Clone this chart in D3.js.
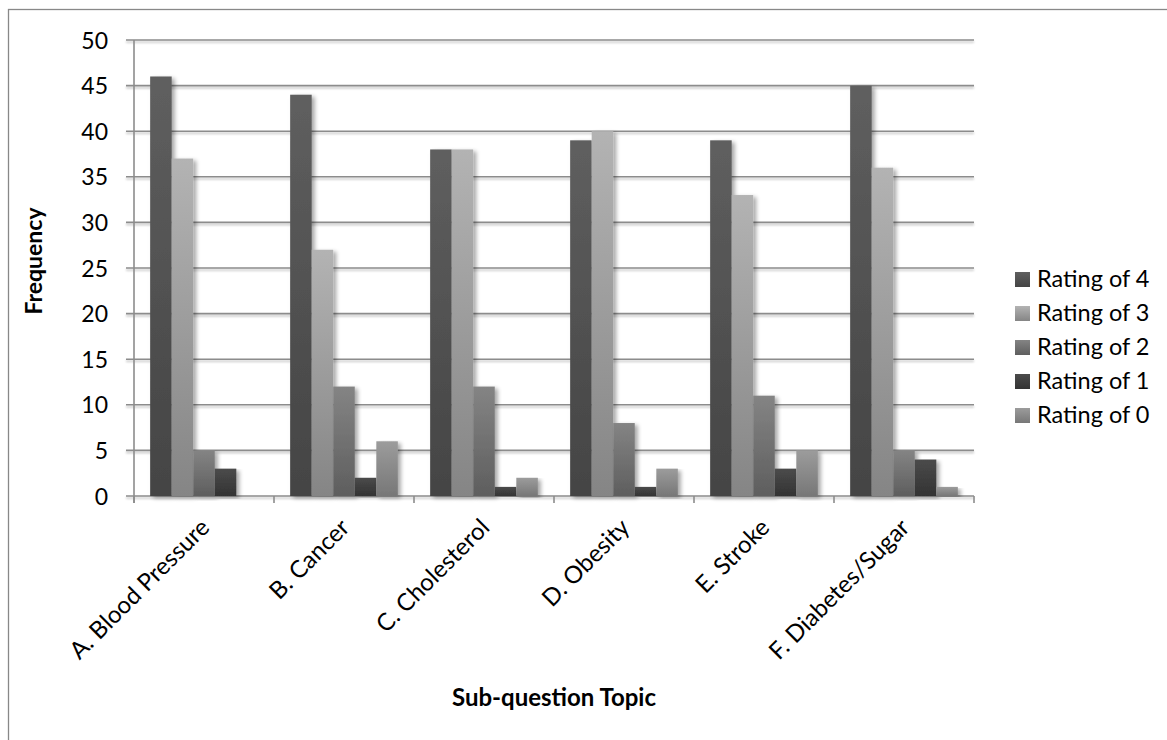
<!DOCTYPE html>
<html>
<head>
<meta charset="utf-8">
<script src="https://cdn.jsdelivr.net/npm/d3@7"></script>
<style>
  html, body { margin: 0; padding: 0; background: #fff; }
  svg { display: block; font-family: Lato, "Open Sans", sans-serif; }
</style>
</head>
<body>
<svg id="chart" width="1167" height="740"></svg>
<script>
// Survey topics and rating frequencies
const topics = ["A. Blood Pressure", "B. Cancer", "C. Cholesterol", "D. Obesity", "E. Stroke", "F. Diabetes/Sugar"];
const ratings = ["Rating of 4", "Rating of 3", "Rating of 2", "Rating of 1", "Rating of 0"];
const rating4 = [46, 44, 38, 39, 39, 45];
const rating3 = [37, 27, 38, 40, 33, 36];
const rating2 = [5, 12, 12, 8, 11, 5];
const rating1 = [3, 2, 1, 1, 3, 4];
const rating0 = [0, 6, 2, 3, 5, 1];
const yTicks = [0, 5, 10, 15, 20, 25, 30, 35, 40, 45, 50];

const seriesValues = [rating4, rating3, rating2, rating1, rating0];
// top / bottom shades of each series gradient
const shades = [
  ["#5f5f5f", "#444444"],
  ["#b3b3b3", "#858585"],
  ["#848484", "#5e5e5e"],
  ["#4b4b4b", "#333333"],
  ["#9c9c9c", "#777777"]
];

const svg = d3.select("#chart");
const defs = svg.append("defs");

shades.forEach((s, i) => {
  const g = defs.append("linearGradient")
    .attr("id", "grad" + i)
    .attr("x1", 0).attr("y1", 0).attr("x2", 0).attr("y2", 1);
  g.append("stop").attr("offset", "0%").attr("stop-color", s[0]);
  g.append("stop").attr("offset", "100%").attr("stop-color", s[1]);
});

// soft drop shadow for bars
const shadow = defs.append("filter").attr("id", "shadow")
  .attr("x", "-20%").attr("y", "-5%").attr("width", "160%").attr("height", "115%");
shadow.append("feGaussianBlur").attr("in", "SourceAlpha").attr("stdDeviation", 2.2).attr("result", "b");
shadow.append("feOffset").attr("in", "b").attr("dx", 2.5).attr("dy", 2).attr("result", "o");
shadow.append("feComponentTransfer").attr("in", "o").attr("result", "t")
  .append("feFuncA").attr("type", "linear").attr("slope", 0.35);
const merge = shadow.append("feMerge");
merge.append("feMergeNode").attr("in", "t");
merge.append("feMergeNode").attr("in", "SourceGraphic");

// faint shadow under gridlines (user space, since lines have no height)
const lineShadow = defs.append("filter").attr("id", "lineShadow")
  .attr("filterUnits", "userSpaceOnUse")
  .attr("x", 0).attr("y", 0).attr("width", 1167).attr("height", 740);
lineShadow.append("feGaussianBlur").attr("in", "SourceAlpha").attr("stdDeviation", 0.8).attr("result", "b");
lineShadow.append("feOffset").attr("in", "b").attr("dx", 0).attr("dy", 1.5).attr("result", "o");
lineShadow.append("feComponentTransfer").attr("in", "o").attr("result", "t")
  .append("feFuncA").attr("type", "linear").attr("slope", 0.25);
const m2 = lineShadow.append("feMerge");
m2.append("feMergeNode").attr("in", "t");
m2.append("feMergeNode").attr("in", "SourceGraphic");

// outer chart frame
svg.append("rect")
  .attr("x", 8.5).attr("y", 9.5).attr("width", 1170).attr("height", 760)
  .attr("fill", "#fff").attr("stroke", "#888").attr("stroke-width", 1.3);

const plot = { left: 134, right: 974, top: 40, bottom: 496 };

const x = d3.scaleBand().domain(topics).range([plot.left, plot.right]).paddingInner(0).paddingOuter(0);
const gapRatio = 1.5; // gap between clusters relative to one bar
const barW = x.bandwidth() / (ratings.length + gapRatio);
const xs = d3.scaleBand().domain(ratings)
  .range([barW * gapRatio / 2, x.bandwidth() - barW * gapRatio / 2]);
const y = d3.scaleLinear().domain([0, 50]).range([plot.bottom, plot.top]);

// horizontal gridlines
svg.append("g").attr("filter", "url(#lineShadow)")
  .selectAll("line").data(yTicks).join("line")
  .attr("x1", plot.left - 8).attr("x2", plot.right)
  .attr("y1", d => y(d)).attr("y2", d => y(d))
  .attr("stroke", "#8c8c8c").attr("stroke-width", 1.6);

// y axis line
svg.append("line")
  .attr("x1", plot.left).attr("x2", plot.left)
  .attr("y1", plot.top).attr("y2", plot.bottom + 7)
  .attr("stroke", "#8c8c8c").attr("stroke-width", 1.6);

// category tick marks
svg.append("g").selectAll("line").data(d3.range(topics.length + 1)).join("line")
  .attr("x1", i => plot.left + i * x.step()).attr("x2", i => plot.left + i * x.step())
  .attr("y1", plot.bottom).attr("y2", plot.bottom + 7)
  .attr("stroke", "#8c8c8c").attr("stroke-width", 1.6);

// y tick labels
const yAxis = d3.axisLeft(y).tickValues(yTicks).tickSize(0).tickPadding(0);
const yg = svg.append("g").attr("transform", `translate(${plot.left - 26},0)`).call(yAxis);
yg.select(".domain").remove();
yg.selectAll("text")
  .attr("font-family", "Lato, 'Open Sans', sans-serif")
  .attr("font-size", 23).attr("fill", "#000").attr("dy", "0.35em");

// bars
const groups = svg.append("g").selectAll("g").data(topics).join("g")
  .attr("transform", d => `translate(${x(d)},0)`);
groups.selectAll("rect")
  .data((t, ti) => ratings.map((r, ri) => ({ r, ri, v: seriesValues[ri][ti] })))
  .join("rect")
  .filter(d => d.v > 0)
  .attr("x", d => xs(d.r))
  .attr("width", xs.bandwidth())
  .attr("y", d => y(d.v))
  .attr("height", d => y(0) - y(d.v))
  .attr("fill", d => `url(#grad${d.ri})`)
  .attr("filter", "url(#shadow)");

// category labels, rotated
svg.append("g").selectAll("text").data(topics).join("text")
  .attr("transform", d => `translate(${x(d) + x.bandwidth() / 2 + 7},${plot.bottom + 33}) rotate(-45)`)
  .attr("text-anchor", "end")
  .attr("font-size", 24).attr("fill", "#000")
  .text(d => d);

// axis titles
svg.append("text")
  .attr("transform", `translate(42,261) rotate(-90)`)
  .attr("text-anchor", "middle")
  .attr("font-size", 23).attr("font-weight", "bold").attr("fill", "#000")
  .text("Frequency");

svg.append("text")
  .attr("x", (plot.left + plot.right) / 2).attr("y", 706)
  .attr("text-anchor", "middle")
  .attr("font-size", 24).attr("font-weight", "bold").attr("fill", "#000")
  .text("Sub-question Topic");

// legend
const legend = svg.append("g").attr("transform", "translate(1015,279)");
const li = legend.selectAll("g").data(ratings).join("g")
  .attr("transform", (d, i) => `translate(0,${i * 34})`);
li.append("rect")
  .attr("x", 0).attr("y", -7).attr("width", 15).attr("height", 15)
  .attr("fill", (d, i) => `url(#grad${i})`);
li.append("text")
  .attr("x", 22).attr("y", 0).attr("dy", "0.35em")
  .attr("font-size", 23.5).attr("fill", "#000")
  .text(d => d);
</script>
</body>
</html>
